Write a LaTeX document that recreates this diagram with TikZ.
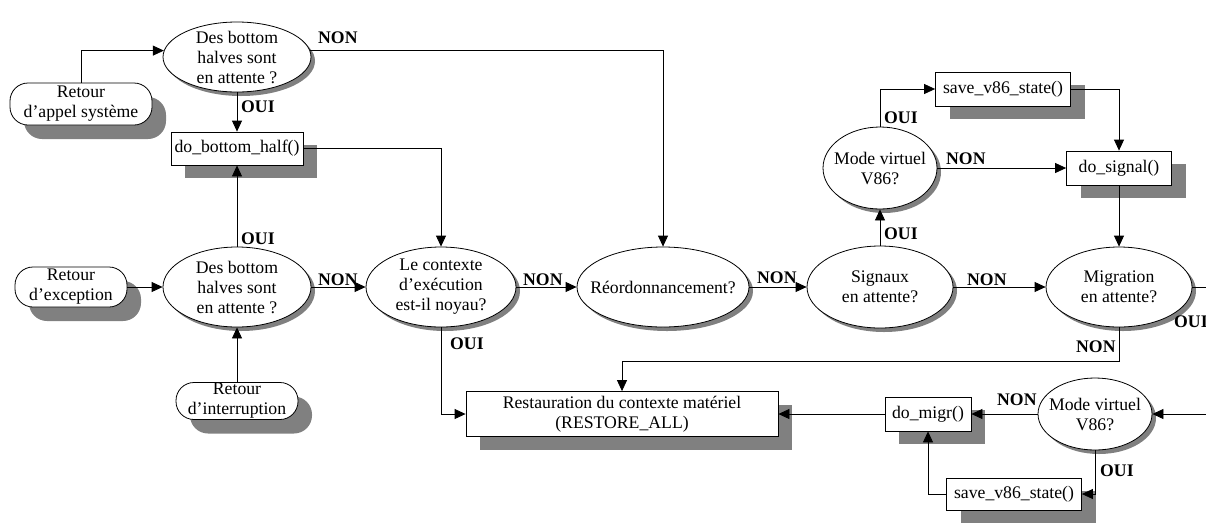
\documentclass[tikz,border=0pt]{standalone}
\usepackage{fontspec}
\setmainfont{Liberation Serif}
\usetikzlibrary{shapes.geometric,shadows,arrows.meta,calc}
\definecolor{shadowgray}{HTML}{808080}

\begin{document}
\begin{tikzpicture}[x=1pt,y=-1pt,
  font=\fontsize{17.7}{20}\selectfont,
  every node/.style={align=center},
  decision/.style={ellipse, draw, fill=white, line width=0.8pt,
    inner xsep=-20pt, inner ysep=-8pt,
    drop shadow={shadow xshift=4pt, shadow yshift=-4pt, fill=shadowgray, opacity=1}},
  proc/.style={rectangle, draw, fill=white, line width=0.8pt, inner sep=0pt,
    drop shadow={shadow xshift=14pt, shadow yshift=-13pt, fill=shadowgray, opacity=1}},
  term/.style={rectangle, rounded corners=18pt, draw, fill=white, line width=0.8pt, inner sep=0pt,
    drop shadow={shadow xshift=14pt, shadow yshift=-14pt, fill=shadowgray, opacity=1}},
  flow/.style={line width=0.8pt, -{Triangle[length=11pt,width=10pt]}},
  link/.style={line width=0.8pt},
  lab/.style={font=\fontsize{17.7}{20}\selectfont\bfseries, inner sep=0pt, anchor=base west}]

\useasboundingbox (0,0) rectangle (1206,523);

% entry points and first tests
\node[term, minimum width=142pt, minimum height=42pt] (ret1) at (81,104) {Retour\\d’appel système};
\node[decision, minimum width=148pt, minimum height=70pt] (E1) at (237,57) {Des bottom\\halves sont\\en attente ?};
\node[proc, minimum width=132pt, minimum height=33pt] (bb) at (237,148.5) {do\_bottom\_half()};
\node[term, minimum width=112pt, minimum height=40pt] (ret2) at (71,287) {Retour\\d’exception};
\node[decision, minimum width=148pt, minimum height=80pt] (E2) at (237,287) {Des bottom\\halves sont\\en attente ?};
\node[term, minimum width=122pt, minimum height=37pt] (ret3) at (237,401) {Retour\\d’interruption};

% main chain
\node[decision, minimum width=150pt, minimum height=80pt] (E3) at (441,287) {Le contexte\\d’exécution\\est-il noyau?};
\node[decision, minimum width=172pt, minimum height=80pt] (E4) at (663,287) {Réordonnancement?};
\node[proc, minimum width=312pt, minimum height=45pt] (rest) at (622,414) {Restauration du contexte matériel\\(RESTORE\_ALL)};
\node[decision, minimum width=146pt, minimum height=82pt] (E5) at (880,287) {Signaux\\en attente?};
\node[decision, minimum width=114pt, minimum height=82pt] (E6) at (880,168) {Mode virtuel\\V86?};
\node[proc, minimum width=135pt, minimum height=34pt] (sv1) at (1003,89) {save\_v86\_state()};
\node[proc, minimum width=105pt, minimum height=34pt] (ds) at (1119,168) {do\_signal()};
\node[decision, minimum width=146pt, minimum height=80pt] (E7) at (1119,287) {Migration\\en attente?};

% migration branch
\node[decision, minimum width=114pt, minimum height=72pt] (E8) at (1095,414) {Mode virtuel\\V86?};
\node[proc, minimum width=86pt, minimum height=34pt] (dm) at (928,414) {do\_migr()};
\node[proc, minimum width=135pt, minimum height=32pt] (sv2) at (1014,494) {save\_v86\_state()};

\coordinate (nonbend) at (622,361);
\coordinate (offR1) at (1206,287);
\coordinate (offR2) at (1206,414);

% connectors
\draw[flow] (ret1.north) |- (E1.175);
\draw[flow] (E1.south) -- (bb.north);
\draw[flow] (E1.5) -| (E4.north);
\draw[flow] (bb.east) -| (E3.north);
\draw[flow] (E2.north) -- (bb.south);
\draw[flow] (ret2.east) -- (E2.west);
\draw[flow] (ret3.north) -- (E2.south);
\draw[flow] (E2.east) -- (E3.west);
\draw[flow] (E3.east) -- (E4.west);
\draw[flow] (E3.south) |- (rest.west);
\draw[flow] (E4.east) -- (E5.west);
\draw[flow] (E5.north) -- (E6.south);
\draw[flow] (E6.north) |- (sv1.west);
\draw[flow] (E6.east) -- (ds.west);
\draw[flow] (sv1.east) -| (ds.north);
\draw[flow] (ds.south) -- (E7.north);
\draw[flow] (E5.east) -- (E7.west);
\draw[flow] (E7.south) |- (nonbend) -- (rest.north);
\draw[link] (E7.east) -- (offR1);
\draw[flow] (offR2) -- (E8.east);
\draw[flow] (E8.west) -- (dm.east);
\draw[flow] (dm.west) -- (rest.east);
\draw[flow] (E8.south) |- (sv2.east);
\draw[flow] (sv2.west) -| (dm.south);

% branch labels
\node[lab] (l1) at (241,112) {OUI};
\node[lab] (l2) at (318,43) {NON};
\node[lab] (l3) at (241,244) {OUI};
\node[lab] (l4) at (318,285) {NON};
\node[lab] (l5) at (523,285) {NON};
\node[lab] (l6) at (757,283) {NON};
\node[lab] (l7) at (450,349) {OUI};
\node[lab] (l8) at (884,239) {OUI};
\node[lab] (l9) at (884,123) {OUI};
\node[lab] (l10) at (946,164) {NON};
\node[lab] (l11) at (967,285) {NON};
\node[lab] (l12) at (1076,352) {NON};
\node[lab] (l13) at (1174,327) {OUI};
\node[lab] (l14) at (997,405) {NON};
\node[lab] (l15) at (1100,476) {OUI};
\end{tikzpicture}
\end{document}
